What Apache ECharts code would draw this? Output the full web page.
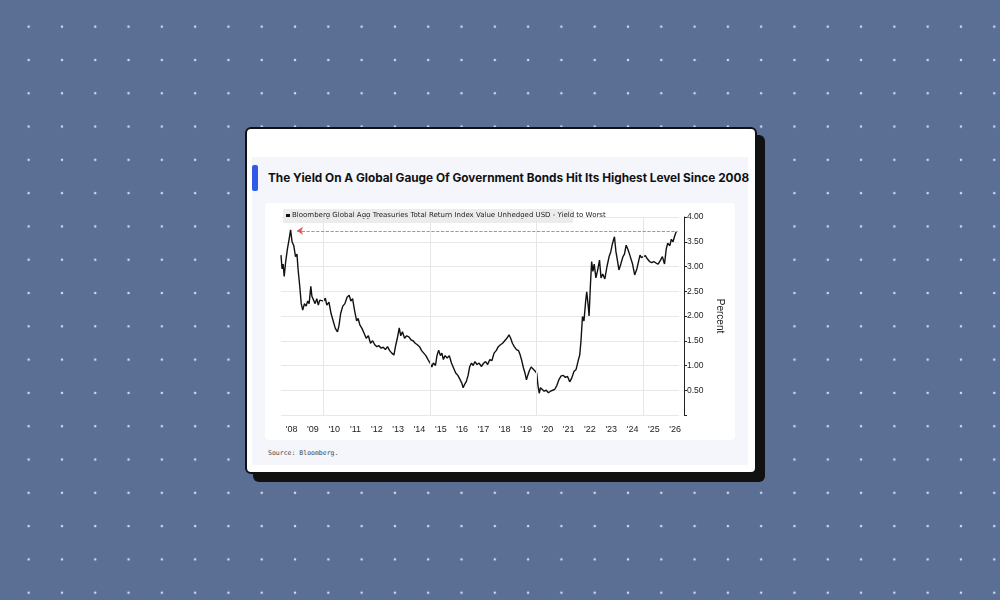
<!DOCTYPE html>
<html><head><meta charset="utf-8">
<script src="https://cdn.jsdelivr.net/npm/echarts@6/dist/echarts.min.js"></script>
<style>
html,body{margin:0;padding:0;width:1000px;height:600px;overflow:hidden;}
body{background-color:#5a6f93;background-image:radial-gradient(circle,#d3dbea 1.2px,transparent 1.6px);background-size:33.3px 33.3px;background-position:12px 10px;font-family:Inter,"Noto Sans",sans-serif;}
#card{position:absolute;left:245px;top:127px;width:508px;height:343px;background:#fff;border:2px solid #111;border-radius:6px;box-shadow:8px 8px 0 #111;}
#panel{position:absolute;left:252px;top:157px;width:496px;height:308px;background:#f4f6fc;}
#bar{position:absolute;left:252px;top:165px;width:6px;height:26px;background:#2f5be6;border-radius:2px;}
#title{position:absolute;left:268px;top:171px;font-size:11.8px;font-weight:700;color:#111;white-space:nowrap;}
#box{position:absolute;left:265px;top:203px;width:470px;height:237px;background:#fff;border-radius:4px;}
#chart{position:absolute;left:265px;top:203px;width:470px;height:237px;}
#src{position:absolute;left:268px;top:449px;font-family:"DejaVu Sans Mono",monospace;font-size:6.5px;color:#444;}
</style></head><body>
<div id="card"></div><div id="panel"></div><div id="bar"></div>
<div id="title">The Yield On A Global Gauge Of Government Bonds Hit Its Highest Level Since 2008</div>
<div id="box"></div><div id="chart"></div>
<div id="src">Source: Bloomberg.</div>
<script>
const legendLabel = "Bloomberg Global Agg Treasuries Total Return Index Value Unhedged USD - Yield to Worst";
const dates = [2008.00,2008.05,2008.10,2008.15,2008.22,2008.30,2008.38,2008.45,2008.52,2008.60,2008.68,2008.75,2008.80,2008.88,2008.95,2009.02,2009.10,2009.18,2009.25,2009.32,2009.40,2009.45,2009.52,2009.60,2009.68,2009.75,2009.82,2009.90,2010.00,2010.08,2010.15,2010.25,2010.35,2010.45,2010.55,2010.65,2010.72,2010.80,2010.90,2011.00,2011.10,2011.20,2011.28,2011.36,2011.45,2011.55,2011.62,2011.70,2011.80,2011.90,2012.00,2012.10,2012.20,2012.30,2012.40,2012.50,2012.60,2012.70,2012.80,2012.90,2013.00,2013.10,2013.20,2013.30,2013.38,2013.46,2013.55,2013.62,2013.70,2013.80,2013.90,2014.00,2014.10,2014.20,2014.30,2014.40,2014.50,2014.60,2014.70,2014.80,2014.90,2015.00,2015.08,2015.15,2015.25,2015.32,2015.40,2015.48,2015.55,2015.62,2015.70,2015.80,2015.90,2016.00,2016.10,2016.20,2016.30,2016.40,2016.48,2016.55,2016.62,2016.70,2016.78,2016.86,2016.94,2017.02,2017.10,2017.20,2017.30,2017.40,2017.50,2017.60,2017.70,2017.80,2017.90,2018.00,2018.10,2018.20,2018.30,2018.40,2018.50,2018.60,2018.70,2018.78,2018.86,2018.95,2019.05,2019.15,2019.22,2019.30,2019.38,2019.45,2019.52,2019.58,2019.66,2019.74,2019.82,2019.90,2020.00,2020.06,2020.12,2020.18,2020.25,2020.35,2020.45,2020.55,2020.65,2020.75,2020.85,2020.95,2021.05,2021.15,2021.25,2021.35,2021.45,2021.55,2021.65,2021.75,2021.85,2021.95,2022.02,2022.08,2022.15,2022.22,2022.30,2022.35,2022.42,2022.46,2022.52,2022.58,2022.64,2022.70,2022.78,2022.85,2022.95,2023.02,2023.10,2023.20,2023.30,2023.40,2023.48,2023.55,2023.65,2023.72,2023.80,2023.86,2023.95,2024.05,2024.12,2024.20,2024.28,2024.35,2024.42,2024.50,2024.60,2024.70,2024.78,2024.85,2024.92,2025.00,2025.10,2025.20,2025.30,2025.40,2025.50,2025.60,2025.70,2025.80,2025.90,2025.95,2026.00,2026.08,2026.15,2026.25,2026.32,2026.40,2026.48,2026.55];
const yields = [3.23,2.95,3.05,2.80,3.10,3.35,3.55,3.74,3.50,3.42,3.20,3.25,2.95,2.60,2.25,2.12,2.25,2.20,2.30,2.25,2.60,2.40,2.38,2.25,2.35,2.22,2.32,2.28,2.30,2.36,2.22,2.28,2.05,1.90,1.75,1.68,1.80,2.05,2.20,2.25,2.38,2.42,2.30,2.35,2.12,1.90,1.95,1.82,1.75,1.65,1.55,1.60,1.45,1.50,1.42,1.38,1.40,1.35,1.37,1.32,1.38,1.30,1.25,1.21,1.40,1.55,1.76,1.60,1.68,1.55,1.60,1.58,1.52,1.50,1.45,1.42,1.38,1.30,1.25,1.20,1.12,1.05,0.97,1.05,1.00,1.20,1.31,1.20,1.25,1.12,1.20,1.15,1.20,1.05,0.95,0.85,0.80,0.72,0.65,0.55,0.62,0.68,0.80,0.98,1.05,1.00,1.08,1.02,1.05,0.98,1.04,1.08,1.02,1.12,1.10,1.25,1.30,1.38,1.42,1.45,1.50,1.55,1.62,1.55,1.45,1.38,1.32,1.30,1.22,1.10,0.95,0.85,0.71,0.80,0.90,0.97,0.95,0.90,0.85,0.60,0.44,0.55,0.52,0.48,0.50,0.45,0.48,0.50,0.52,0.60,0.72,0.79,0.80,0.76,0.78,0.67,0.75,0.88,0.92,1.10,1.21,1.50,1.99,1.90,2.30,2.49,2.20,2.00,2.60,3.10,2.90,3.05,2.77,2.90,3.13,2.77,2.85,2.75,3.00,3.20,3.30,3.45,3.60,3.30,3.10,2.93,3.05,3.20,3.25,3.43,3.35,3.26,3.30,3.05,2.83,2.95,3.10,3.23,3.18,3.16,3.22,3.15,3.10,3.08,3.10,3.07,3.05,3.12,3.20,3.19,3.05,3.35,3.47,3.42,3.55,3.50,3.62,3.70];
const yTicks = [0.5,1.0,1.5,2.0,2.5,3.0,3.5,4.0];
const gridYears = [2010,2015,2020,2025];
const refLevel = 3.72;

const chart = echarts.init(document.getElementById('chart'));
const xMin = 2008, xMax = 2026.68;
chart.setOption({
  animation:false,
  grid:{left:16,top:14,width:398,height:198},
  xAxis:[
    {type:'value',min:xMin,max:xMax,axisLabel:{show:false},axisTick:{show:false},axisLine:{show:false},splitLine:{show:false}},
    {type:'value',min:xMin-0.5,max:xMax-0.5,interval:0.5,position:'bottom',axisLine:{show:false},axisTick:{show:false},splitLine:{show:false},
     axisLabel:{margin:10,fontSize:9,color:'#222',fontFamily:'Liberation Sans',showMinLabel:true,showMaxLabel:true,
       formatter:v=>(Math.abs(v-Math.round(v))<1e-6&&v>=2008&&v<=2026)?"'"+String(Math.round(v)).slice(2):''}}
  ],
  yAxis:{type:'value',min:0,max:4,interval:0.5,position:'right',offset:5,
    name:'Percent',nameLocation:'middle',nameRotate:-90,nameGap:28,nameTextStyle:{fontSize:10,color:'#222'},
    axisLine:{show:true,lineStyle:{color:'#222'}},axisTick:{show:true,length:3,lineStyle:{color:'#222'}},
    axisLabel:{fontSize:8.5,color:'#222',margin:3,formatter:v=>yTicks.includes(v)?v.toFixed(2):''},
    splitLine:{show:true,lineStyle:{color:'#e8e8e8'}}},
  graphic:[
    {type:'rect',left:18,top:6,shape:{width:290,height:14},style:{fill:'#ececec'}},
    {type:'rect',left:21,top:11,shape:{width:4,height:4},style:{fill:'#111'}},
    {type:'text',left:27,top:9,style:{text:legendLabel,fontSize:7,fill:'#222',fontFamily:'DejaVu Sans'}}
  ],
  series:[
    {type:'line',xAxisIndex:0,data:[],markLine:{silent:true,symbol:'none',label:{show:false},
      lineStyle:{color:'#e6e6e6',type:'solid',width:1},data:gridYears.map(y=>({xAxis:y}))}},
    {type:'line',xAxisIndex:0,data:dates.map((d,i)=>[d,yields[i]]),showSymbol:false,
    lineStyle:{color:'#111',width:1.4},
    markLine:{silent:true,symbol:['arrow','none'],symbolSize:6,label:{show:false},
      lineStyle:{color:'#e05555',type:'dashed',width:0.8},
      data:[[{coord:[2008.75,refLevel]},{coord:[2026.62,refLevel]}]]}}]
});
</script></body></html>
